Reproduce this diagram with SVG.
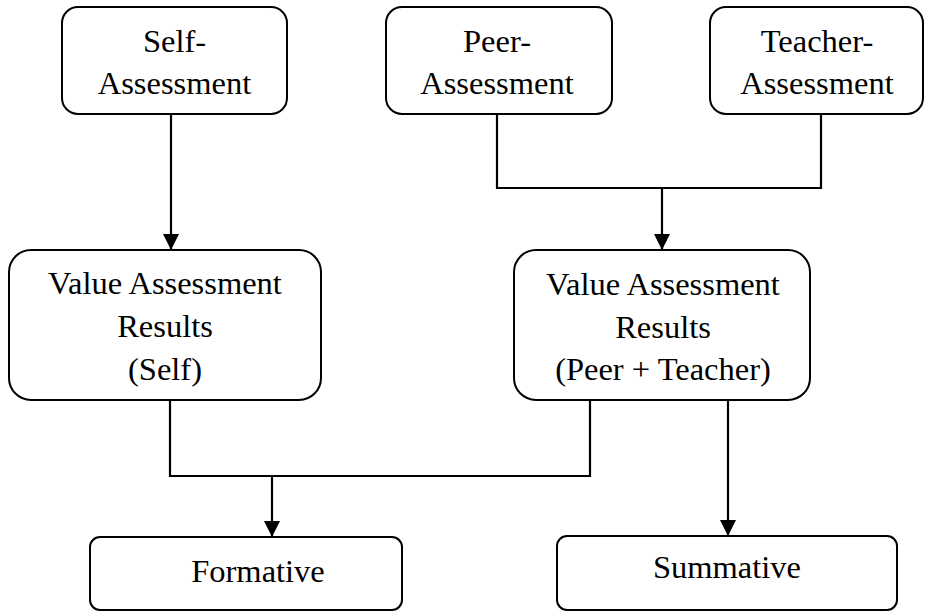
<svg xmlns="http://www.w3.org/2000/svg" width="926" height="613" viewBox="0 0 926 613">
<defs>
<style>
.box{fill:#fff;stroke:#000;stroke-width:2}
.t{font-family:"Liberation Serif","Times New Roman",serif;font-size:32.5px;fill:#000;text-anchor:middle}
.c{fill:none;stroke:#000;stroke-width:2.2}
</style>
<marker id="ah" viewBox="0 0 16 16" refX="16" refY="8" markerWidth="16" markerHeight="16" markerUnits="userSpaceOnUse" orient="auto">
<path d="M0,0 L16,8 L0,16 Z" fill="#000"/>
</marker>
</defs>
<rect width="926" height="613" fill="#fff"/>
<g id="connectors">
<line class="c" x1="171" y1="114" x2="171" y2="250" marker-end="url(#ah)"/>
<polyline class="c" points="497,114 497,188 821,188 821,114"/>
<line class="c" x1="662" y1="188" x2="662" y2="250" marker-end="url(#ah)"/>
<polyline class="c" points="170,400 170,476 590,476 590,400"/>
<line class="c" x1="272" y1="476" x2="272" y2="537" marker-end="url(#ah)"/>
<line class="c" x1="728" y1="400" x2="728" y2="536" marker-end="url(#ah)"/>
</g>
<g id="self">
<rect class="box" x="62" y="7" width="225" height="107" rx="16"/>
<text class="t" x="174.5" y="52">Self-</text>
<text class="t" x="174.5" y="94">Assessment</text>
</g>
<g id="peer">
<rect class="box" x="386" y="7" width="226" height="107" rx="16"/>
<text class="t" x="497" y="52">Peer-</text>
<text class="t" x="497" y="94">Assessment</text>
</g>
<g id="teacher">
<rect class="box" x="710" y="7" width="213" height="107" rx="16"/>
<text class="t" x="817" y="52">Teacher-</text>
<text class="t" x="817" y="94">Assessment</text>
</g>
<g id="value-self">
<rect class="box" x="9" y="250" width="312" height="150" rx="22"/>
<text class="t" x="165" y="294">Value Assessment</text>
<text class="t" x="165" y="337">Results</text>
<text class="t" x="165" y="380">(Self)</text>
</g>
<g id="value-peer-teacher">
<rect class="box" x="514" y="250" width="296" height="150" rx="22"/>
<text class="t" x="663" y="295">Value Assessment</text>
<text class="t" x="663" y="338">Results</text>
<text class="t" x="663" y="380">(Peer + Teacher)</text>
</g>
<g id="formative">
<rect class="box" x="90" y="537" width="312" height="73" rx="10"/>
<text class="t" x="258" y="582">Formative</text>
</g>
<g id="summative">
<rect class="box" x="557" y="536" width="340" height="74" rx="10"/>
<text class="t" x="727" y="578">Summative</text>
</g>
</svg>
